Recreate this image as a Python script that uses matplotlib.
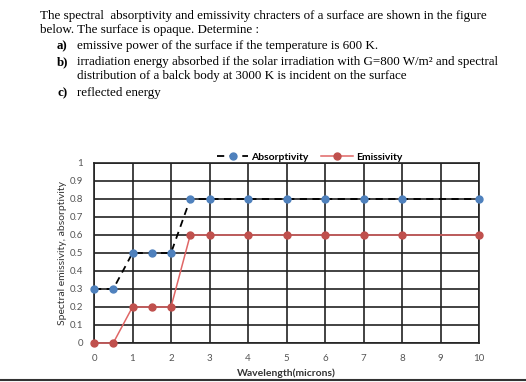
import matplotlib.pyplot as plt

# data
wavelength = [0, 0.5, 1, 1.5, 2, 2.5, 3, 4, 5, 6, 7, 8, 10]
absorptivity = [0.3, 0.3, 0.5, 0.5, 0.5, 0.8, 0.8, 0.8, 0.8, 0.8, 0.8, 0.8, 0.8]
emissivity = [0, 0, 0.2, 0.2, 0.2, 0.6, 0.6, 0.6, 0.6, 0.6, 0.6, 0.6, 0.6]
x_ticks = list(range(0, 11))
y_ticks = [0, 0.1, 0.2, 0.3, 0.4, 0.5, 0.6, 0.7, 0.8, 0.9, 1]
y_labels = ['0', '0.1', '0.2', '0.3', '0.4', '0.5', '0.6', '0.7', '0.8', '0.9', '1']

fig = plt.figure(figsize=(5.26, 3.82), dpi=100)

# problem statement above the chart
serif = 'Liberation Serif'
fs = 9.4
fig.text(40 / 526, 1 - 16 / 382,
         'The spectral  absorptivity and emissivity chracters of a surface are shown in the figure',
         family=serif, fontsize=fs, va='center')
fig.text(40 / 526, 1 - 30 / 382, 'below. The surface is opaque. Determine :',
         family=serif, fontsize=fs, va='center')
items = [
    (46, 'a)', 'emissive power of the surface if the temperature is 600 K.'),
    (62, 'b)', 'irradiation energy absorbed if the solar irradiation with G=800 W/m\u00b2 and spectral'),
    (76, None, 'distribution of a balck body at 3000 K is incident on the surface'),
    (93, 'c)', 'reflected energy'),
]
for y, lab, txt in items:
    if lab:
        fig.text(57 / 526, 1 - y / 382, lab, family=serif, fontsize=fs,
                 fontweight='bold', va='center')
    fig.text(77 / 526, 1 - y / 382, txt, family=serif, fontsize=fs, va='center')

# chart
ax = fig.add_axes([94 / 526, 39 / 382, 385 / 526, 180 / 382])
ax.plot(wavelength, emissivity, color='#E06666', lw=1.1, marker='o', ms=5,
        mfc='#C0504D', mec='#C0504D', label='Emissivity', zorder=3, clip_on=False)
ax.plot(wavelength, absorptivity, color='black', lw=1.3, ls=(0, (4, 3)),
        marker='o', ms=5, mfc='#4F81BD', mec='#4F81BD', label='Absorptivity',
        zorder=4, clip_on=False)

ax.set_xlim(0, 10)
ax.set_ylim(0, 1)
ax.set_xticks(x_ticks)
ax.set_yticks(y_ticks)
ax.set_yticklabels(y_labels)
ax.grid(True, color='#222222', lw=1.2)
for s in ax.spines.values():
    s.set_color('#222222')
    s.set_linewidth(1.2)
ax.tick_params(length=0, labelsize=7, colors='#555555', pad=8)
ax.set_xlabel('Wavelength(microns)', family='Lato', fontsize=7.5,
              fontweight='bold', color='#333333', labelpad=4)
ax.set_ylabel('Spectral emissivity, absorptivity', family='Lato', fontsize=7.5,
              color='#333333', labelpad=2)
for lbl in ax.get_xticklabels() + ax.get_yticklabels():
    lbl.set_family('Lato')

h, l = ax.get_legend_handles_labels()
ax.legend(h[::-1], l[::-1], loc='lower center', bbox_to_anchor=(0.56, 1.0),
          ncol=2, frameon=False, handlelength=3, columnspacing=1.2,
          handletextpad=0.3, prop={'family': 'Lato', 'size': 7.5, 'weight': 'bold'},
          borderpad=0, borderaxespad=0.1)

fig.add_artist(plt.Line2D([0, 1], [2 / 382, 2 / 382], color='#333333', lw=1.5))

plt.savefig('out.png', dpi=100)
